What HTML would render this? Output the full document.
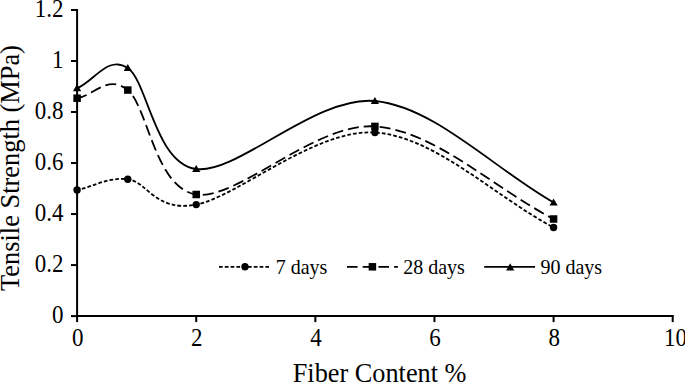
<!DOCTYPE html>
<html><head><meta charset="utf-8"><style>
html,body{margin:0;padding:0;background:#fff;width:685px;height:383px;overflow:hidden}
svg{display:block}
</style></head><body>
<svg width="685" height="383" viewBox="0 0 685 383">
<g stroke="#000" stroke-width="2" fill="none">
<path d="M77.1,9 V317.1 M76.1,316.1 H673.7"/>
<path d="M71,316.10 H77.1"/>
<path d="M71,265.08 H77.1"/>
<path d="M71,214.06 H77.1"/>
<path d="M71,163.04 H77.1"/>
<path d="M71,112.02 H77.1"/>
<path d="M71,61.00 H77.1"/>
<path d="M71,9.98 H77.1"/>
<path d="M77.10,316.1 V322.1"/>
<path d="M196.22,316.1 V322.1"/>
<path d="M315.34,316.1 V322.1"/>
<path d="M434.46,316.1 V322.1"/>
<path d="M553.58,316.1 V322.1"/>
<path d="M672.70,316.1 V322.1"/>
</g>
<g font-family='"Liberation Serif", serif' font-size="23" fill="#000" text-anchor="end">
<text transform="translate(63.4,323.10) scale(1,1.09)">0</text>
<text transform="translate(63.4,272.08) scale(1,1.09)">0.2</text>
<text transform="translate(63.4,221.06) scale(1,1.09)">0.4</text>
<text transform="translate(63.4,170.04) scale(1,1.09)">0.6</text>
<text transform="translate(63.4,119.02) scale(1,1.09)">0.8</text>
<text transform="translate(63.4,68.00) scale(1,1.09)">1</text>
<text transform="translate(63.4,16.98) scale(1,1.09)">1.2</text>
</g>
<g font-family='"Liberation Serif", serif' font-size="23" fill="#000" text-anchor="middle">
<text transform="translate(77.70,346.2) scale(1,1.07)">0</text>
<text transform="translate(196.82,346.2) scale(1,1.07)">2</text>
<text transform="translate(315.94,346.2) scale(1,1.07)">4</text>
<text transform="translate(435.06,346.2) scale(1,1.07)">6</text>
<text transform="translate(554.18,346.2) scale(1,1.07)">8</text>
<text transform="translate(664,346.2) scale(1,1.07)" text-anchor="start">10</text>
</g>
<text transform="translate(379.6,382.4) scale(1,1.06)" font-family='"Liberation Serif", serif' font-size="26.3" text-anchor="middle">Fiber Content %</text>
<text transform="translate(18.5,168) rotate(-90) scale(1,1.03)" font-family='"Liberation Serif", serif' font-size="26.4" text-anchor="middle">Tensile Strength (MPa)</text>
<path d="M77.10,190.00 C94.00,186.43 107.95,176.87 127.80,179.30 C147.65,181.73 155.04,212.40 196.22,204.60 C237.40,196.80 315.34,128.68 374.90,132.50 C434.46,136.32 494.02,195.83 553.58,227.50" fill="none" stroke="#000" stroke-width="1.8" stroke-dasharray="3.7 2.1" stroke-dashoffset="0.9"/>
<path d="M77.10,98.20 C94.00,95.48 107.95,74.00 127.80,90.05 C147.65,106.10 155.04,188.44 196.22,194.50 C237.40,200.56 315.34,122.32 374.90,126.40 C434.46,130.48 494.02,188.13 553.58,219.00" fill="none" stroke="#000" stroke-width="1.8" stroke-dasharray="11 5" stroke-dashoffset="0.9"/>
<path d="M77.10,88.20 C94.00,81.47 107.95,54.53 127.80,68.00 C147.65,81.47 155.04,163.50 196.22,169.00 C237.40,174.50 315.34,95.42 374.90,101.00 C434.46,106.58 494.02,168.67 553.58,202.50" fill="none" stroke="#000" stroke-width="1.8"/>
<circle cx="77.10" cy="190" r="3.7"/>
<circle cx="127.80" cy="179.3" r="3.7"/>
<circle cx="196.22" cy="204.6" r="3.7"/>
<circle cx="374.90" cy="132.5" r="3.7"/>
<circle cx="553.58" cy="227.5" r="3.7"/>
<rect x="73.35" y="94.45" width="7.5" height="7.5"/>
<rect x="124.05" y="86.30" width="7.5" height="7.5"/>
<rect x="192.47" y="190.75" width="7.5" height="7.5"/>
<rect x="371.15" y="122.65" width="7.5" height="7.5"/>
<rect x="549.83" y="215.25" width="7.5" height="7.5"/>
<path d="M77.10,84.10 L81.20,91.30 L73.00,91.30Z"/>
<path d="M127.80,63.90 L131.90,71.10 L123.70,71.10Z"/>
<path d="M196.22,164.90 L200.32,172.10 L192.12,172.10Z"/>
<path d="M374.90,96.90 L379.00,104.10 L370.80,104.10Z"/>
<path d="M553.58,198.40 L557.68,205.60 L549.48,205.60Z"/>
<path d="M219,266.8 H269" stroke="#000" stroke-width="1.8" stroke-dasharray="3.7 2.1"/>
<circle cx="245" cy="266.8" r="3.7"/>
<path d="M347,266.8 H397.9" stroke="#000" stroke-width="1.8" stroke-dasharray="10.6 5.1"/>
<rect x="368.65" y="263.05" width="7.5" height="7.5"/>
<path d="M484.2,266.8 H535.1" stroke="#000" stroke-width="1.8"/>
<path d="M510.20,263.20 L514.30,270.40 L506.10,270.40Z"/>
<g font-family='"Liberation Serif", serif' font-size="20" fill="#000">
<text transform="translate(275.7,273.8) scale(1,1.03)">7 days</text>
<text transform="translate(403.2,273.8) scale(1,1.03)">28 days</text>
<text transform="translate(540.5,273.8) scale(1,1.03)">90 days</text>
</g>
</svg>
</body></html>
